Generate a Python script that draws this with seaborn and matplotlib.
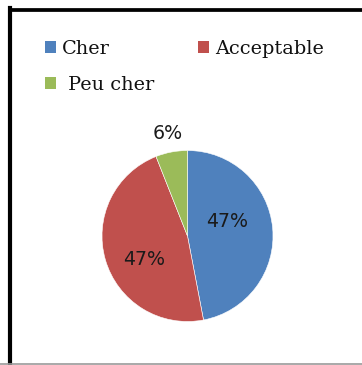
import numpy as np
import matplotlib
matplotlib.use("Agg")
import matplotlib.pyplot as plt
from matplotlib.lines import Line2D
from matplotlib.patches import Patch
import seaborn as sns

# Price perception shares (%)
categories = ["Cher", "Acceptable", "Peu cher"]
legend_labels = ["Cher", "Acceptable", " Peu cher"]
shares = [47, 47, 6]
pct_labels = ["47%", "47%", "6%"]
colors = ["#4F81BD", "#C0504D", "#9BBB59"]

sns.set_theme(style="white")
plt.rcParams["font.family"] = ["DejaVu Sans"]

W, H = 362, 365
fig = plt.figure(figsize=(W / 100, H / 100), dpi=100)
fig.patch.set_facecolor("white")

# Pie axes: centre (187.5, 236) px, radius 85.5 px
cx, cy, r = 187.5, 236.0, 85.5
ax = fig.add_axes([(cx - r) / W, (H - cy - r) / H, 2 * r / W, 2 * r / H])

wedges, _ = ax.pie(shares, colors=colors, startangle=90, counterclock=False,
                   radius=1.0, wedgeprops=dict(linewidth=0.4, edgecolor="white"))
ax.set_xlim(-1, 1)
ax.set_ylim(-1, 1)
ax.set_aspect("equal")
ax.axis("off")

# Data labels: inside for large slices, outside for the small one
dists = [0.49, 0.58, 1.22]
turns = [15, 12, 0]
for w, lab, d, t in zip(wedges, pct_labels, dists, turns):
    mid = np.deg2rad((w.theta1 + w.theta2) / 2 + t)
    ax.text(d * np.cos(mid), d * np.sin(mid), lab, ha="center", va="center",
            fontsize=13.7, color="#1a1a1a", clip_on=False)

# Legend, filled row by row (matplotlib fills columns first)
handles = [Patch(facecolor=c, edgecolor="none") for c in colors]
order = [0, 2, 1]
fig.legend([handles[i] for i in order], [legend_labels[i] for i in order],
           ncol=2, loc="upper left",
           bbox_to_anchor=(45 / W, 1 - 39.5 / H), frameon=False,
           prop={"family": "DejaVu Serif", "size": 13.9},
           labelcolor="#111111",
           handlelength=0.57, handleheight=0.57, handletextpad=0.3,
           columnspacing=2.3, labelspacing=0.96, borderpad=0, borderaxespad=0)

# Chart frame
fig.add_artist(Line2D([10 / W, 10 / W], [0, 1 - 8 / H], color="black", lw=3.0,
                      transform=fig.transFigure, solid_capstyle="projecting"))
fig.add_artist(Line2D([10 / W, 1], [1 - 10 / H, 1 - 10 / H], color="black", lw=2.7,
                      transform=fig.transFigure, solid_capstyle="projecting"))
fig.add_artist(Line2D([0, 1], [1.5 / H, 1.5 / H], color="#9a9a9a", lw=1.2,
                      transform=fig.transFigure))

fig.savefig("out.png", dpi=100, facecolor="white")
